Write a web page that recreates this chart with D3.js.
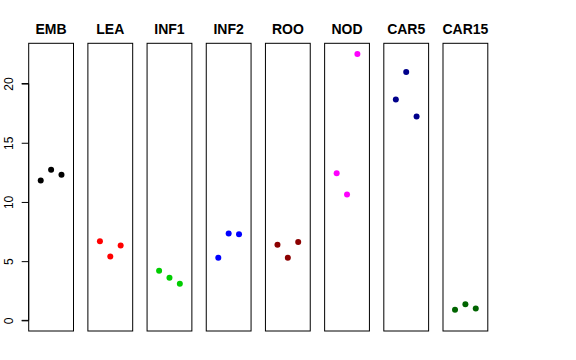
<html>
<head>
    <script type="text/javascript" src="https://cdnjs.cloudflare.com/ajax/libs/d3/7.8.5/d3.min.js"></script>
    <style>
        body { margin: 0; background: white; }
        text { font-family: "Liberation Sans", Arial, sans-serif; }
    </style>
</head>
<body>
    <div id="viz"></div>
    <script type="text/javascript">

    var tissues = ["EMB", "LEA", "INF1", "INF2", "ROO", "NOD", "CAR5", "CAR15"];
    var colours = ["#000000", "#FF0000", "#00CD00", "#0000FF", "#8B0000", "#FF00FF", "#00008B", "#006400"];
    var rep1 = [11.81, 6.69, 4.19, 5.28, 6.38, 12.43, 18.65, 0.89];
    var rep2 = [12.71, 5.40, 3.60, 7.34, 5.28, 10.63, 20.98, 1.35];
    var rep3 = [12.29, 6.33, 3.09, 7.28, 6.61, 22.50, 17.22, 1.01];
    var yTicks = [0, 5, 10, 15, 20];

    var svg = d3.select("#viz")
        .append("svg")
        .attr("width", 576)
        .attr("height", 360);

    // R style 4% extension on both axes
    var yMax = 22.5, yPad = yMax * 0.04;
    var y = d3.scaleLinear().domain([-yPad, yMax + yPad]).range([331, 43.3]);

    var panel = d3.scaleBand().domain(tissues).range([28.7, 487.8])
        .paddingInner(0.243).paddingOuter(0);

    var inner = d3.scaleLinear().domain([-0.16, 4.16]).range([0, panel.bandwidth()]);

    tissues.forEach(function(t, i) {
        var g = svg.append("g").attr("transform", "translate(" + panel(t) + ",0)");

        g.append("rect")
            .attr("x", 0)
            .attr("y", y(yMax + yPad))
            .attr("width", panel.bandwidth())
            .attr("height", y(-yPad) - y(yMax + yPad))
            .style("fill", "none")
            .style("stroke", "black")
            .style("stroke-width", 1);

        g.append("text")
            .attr("x", panel.bandwidth() / 2)
            .attr("y", 34)
            .attr("text-anchor", "middle")
            .style("font-weight", "bold")
            .style("font-size", "14px")
            .text(t);

        var vals = [rep1[i], rep2[i], rep3[i]];
        g.selectAll("circle")
            .data(vals)
            .enter().append("circle")
            .attr("cx", function(d, j) { return inner(j + 1); })
            .attr("cy", function(d) { return y(d); })
            .attr("r", 3)
            .style("fill", colours[i]);
    });

    // y axis on first panel
    var axis = d3.axisLeft(y).tickValues(yTicks).tickSize(7).tickPadding(0).tickFormat(d3.format("d"));
    var ax = svg.append("g")
        .attr("transform", "translate(" + panel(tissues[0]) + ",0)")
        .call(axis);
    ax.select(".domain").attr("d", "M-7," + y(0) + "H0V" + y(20) + "H-7").style("stroke", "black");
    ax.selectAll(".tick line").style("stroke", "black");
    ax.selectAll(".tick text")
        .attr("x", 0).attr("y", 0).attr("dy", 0)
        .attr("transform", "translate(-16,0) rotate(-90)")
        .attr("text-anchor", "middle")
        .style("font-family", "Liberation Sans, Arial, sans-serif")
        .style("font-size", "12px")
        .style("fill", "black");

    </script>
</body>
</html>
